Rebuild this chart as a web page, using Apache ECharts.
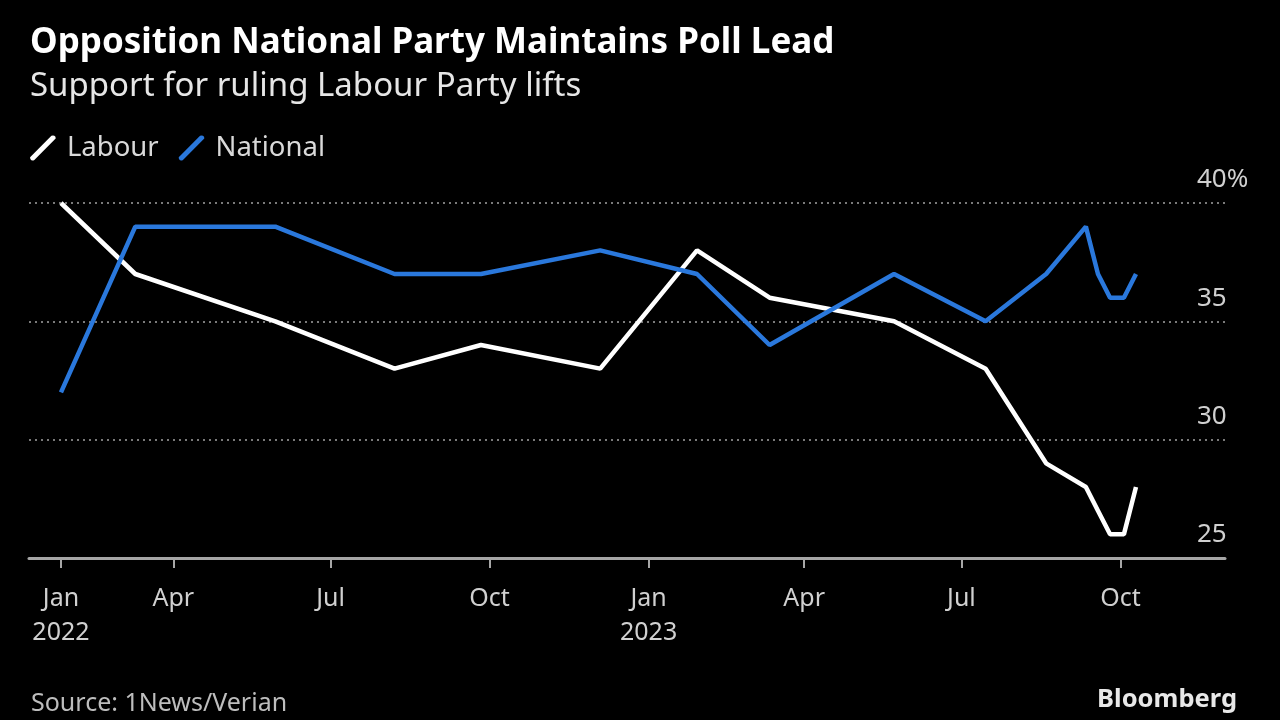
<!DOCTYPE html>
<html>
<head>
<meta charset="utf-8">
<script src="https://cdn.jsdelivr.net/npm/echarts@6/dist/echarts.min.js"></script>
<style>
html,body{margin:0;padding:0;background:#000;}
#chart{width:1280px;height:720px;}
</style>
</head>
<body>
<div id="chart"></div>
<script>
// ---- Data ----
const pollDates = ['2022-01-26','2022-03-10','2022-05-30','2022-08-07','2022-09-26','2022-12-04','2023-01-29','2023-03-12','2023-05-23','2023-07-15','2023-08-19','2023-09-11','2023-09-18','2023-09-25','2023-10-03','2023-10-10'];
const labour   = [40, 37, 35, 33, 34, 33, 38, 36, 35, 33, 29, 28, 27, 26, 26, 28];
const national = [32, 39, 39, 37, 37, 38, 37, 34, 37, 35, 37, 39, 37, 36, 36, 37];
const tickDates  = ['2022-01-26','2022-04-01','2022-07-01','2022-10-01','2023-01-01','2023-04-01','2023-07-01','2023-10-01'];
const tickLabels = ['Jan\n2022','Apr','Jul','Oct','Jan\n2023','Apr','Jul','Oct'];

const DAY = 86400000;
function ts(s){const p=s.split('-').map(Number);return Date.UTC(p[0],p[1]-1,p[2]);}
const tickTs = tickDates.map(ts);
const labelMap = new Map(tickTs.map((t,i)=>[t,tickLabels[i]]));
const xMin = ts('2022-01-07') + DAY/2;
const xMax = ts('2023-11-30') + DAY/2;

const FONT = 'Noto Sans';
const chart = echarts.init(document.getElementById('chart'), null, {renderer:'canvas'});
chart.setOption({
  backgroundColor:'#000',
  animation:false,
  title:[
    {text:'Opposition National Party Maintains Poll Lead', left:25, top:21,
     textStyle:{color:'#fff', fontFamily:FONT, fontWeight:'bold', fontSize:35}},
    {text:'Support for ruling Labour Party lifts', left:25, top:65,
     textStyle:{color:'#e6e6e6', fontFamily:FONT, fontWeight:'normal', fontSize:33}},
    {text:'Source: 1News/Verian', left:26, top:686,
     textStyle:{color:'#bdbdbd', fontFamily:FONT, fontWeight:'normal', fontSize:25}},
    {text:'Bloomberg', right:38, top:682,
     textStyle:{color:'#e8e8e8', fontFamily:FONT, fontWeight:'bold', fontSize:25.5}}
  ],
  legend:{
    left:25, top:129, itemGap:20, itemWidth:26, itemHeight:25,
    icon:'path://M21.5,0.5 Q24,-0.5 25.5,1.5 Q26.5,3.5 24.5,4.5 L4.5,24.5 Q2,26 0.5,23.5 Q-0.5,21.5 1.5,20.5 Z',
    textStyle:{color:'#d9d9d9', fontFamily:FONT, fontSize:27.5, padding:[0,0,0,6]},
    data:['Labour','National']
  },
  grid:{left:29, right:55, top:203, bottom:162},
  xAxis:{
    type:'value', min:xMin, max:xMax,
    axisLine:{show:true, lineStyle:{color:'#a6a6a6', width:3}},
    axisTick:{show:true, length:10, customValues:tickTs, lineStyle:{color:'#a6a6a6', width:2}},
    axisLabel:{
      customValues:tickTs, color:'#d0d0d0', fontFamily:FONT, fontSize:25, lineHeight:34, margin:24,
      formatter:function(v){return labelMap.has(v)?labelMap.get(v):'';}
    },
    splitLine:{show:false}
  },
  yAxis:{
    type:'value', position:'right', min:25, max:40, interval:5,
    axisLine:{show:false}, axisTick:{show:false},
    axisLabel:{color:'#d0d0d0', fontFamily:FONT, fontSize:26, margin:-28, align:'left',
      verticalAlign:'bottom', padding:[0,0,10,0],
      formatter:function(v){return v===40?'40%':String(v);}},
    splitLine:{show:true, lineStyle:{color:'#7a7a7a', width:2, type:[2,4]}}
  },
  series:[
    {name:'Labour', type:'line', symbol:'none', color:'#ffffff',
     lineStyle:{width:4.5, color:'#ffffff'},
     data:pollDates.map((d,i)=>[ts(d),labour[i]])},
    {name:'National', type:'line', symbol:'none', color:'#2a78dc',
     lineStyle:{width:4.5, color:'#2a78dc'},
     data:pollDates.map((d,i)=>[ts(d),national[i]])}
  ]
});
</script>
</body>
</html>
